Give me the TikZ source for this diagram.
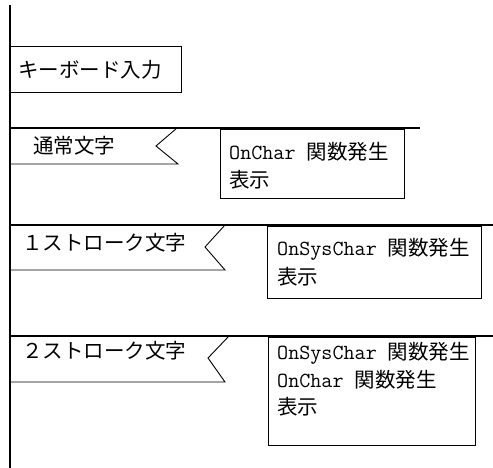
\documentclass[tikz,border=0pt]{standalone}
\usepackage{fontspec}
\newfontfamily\jpfont{Noto Sans CJK JP}
\newcommand{\mn}[1]{{\ttfamily\fontsize{21.5}{24}\selectfont #1}}
\tikzset{
  rule/.style={line width=1.8pt},
  thin frame/.style={line width=0.9pt},
  jtxt/.style={font=\jpfont\fontsize{20.5}{24}\selectfont, inner sep=0pt, anchor=west},
  frame/.style={draw, line width=0.9pt, inner sep=0pt, anchor=north west},
}
\begin{document}
\begin{tikzpicture}[x=1pt,y=-1pt]
\useasboundingbox (0,0) rectangle (493,468);
\fill[white] (0,0) rectangle (493,468);

% main vertical line
\coordinate (vtop) at (10,5);
\coordinate (vbot) at (10,468);
\draw[rule] (vtop) -- (vbot);

% keyboard input box
\node[frame, minimum width=171pt, minimum height=46pt] (kb) at (10,46) {};
\node[jtxt] (kbt) at (18,70) {キーボード入力};

% section 1
\coordinate (l1a) at (10,128);
\coordinate (l1b) at (420,128);
\draw[rule] (l1a) -- (l1b);
\coordinate (f1t) at (177,128);
\coordinate (f1m) at (156,146);
\coordinate (f1b) at (178,164);
\coordinate (f1l) at (10,164);
\draw[thin frame] (f1t) -- (f1m) -- (f1b) -- (f1l);
\node[jtxt] (f1txt) at (33,146) {通常文字};
\node[frame, minimum width=184pt, minimum height=69pt] (b1) at (220,129) {};
\node[jtxt] (b1a) at (229,152) {\mn{OnChar }関数発生};
\node[jtxt] (b1b) at (229,180) {表示};

% section 2
\coordinate (l2a) at (10,225);
\coordinate (l2b) at (493,225);
\draw[rule] (l2a) -- (l2b);
\coordinate (f2t) at (225,225);
\coordinate (f2m) at (205,247);
\coordinate (f2b) at (225,270);
\coordinate (f2l) at (10,270);
\draw[thin frame] (f2t) -- (f2m) -- (f2b) -- (f2l);
\node[jtxt] (f2txt) at (22,243) {１ストローク文字};
\node[frame, minimum width=214pt, minimum height=72pt] (b2) at (267,226) {};
\node[jtxt] (b2a) at (277,249) {\mn{OnSysChar }関数発生};
\node[jtxt] (b2b) at (277,277) {表示};

% section 3
\coordinate (l3a) at (10,336);
\coordinate (l3b) at (493,336);
\draw[rule] (l3a) -- (l3b);
\coordinate (f3t) at (229,336);
\coordinate (f3m) at (208,358);
\coordinate (f3b) at (225,382);
\coordinate (f3l) at (10,382);
\draw[thin frame] (f3t) -- (f3m) -- (f3b) -- (f3l);
\node[jtxt] (f3txt) at (22,351) {２ストローク文字};
\node[frame, minimum width=207pt, minimum height=108pt] (b3) at (268,337) {};
\node[jtxt] (b3a) at (277,353) {\mn{OnSysChar }関数発生};
\node[jtxt] (b3b) at (277,380) {\mn{OnChar }関数発生};
\node[jtxt] (b3c) at (277,407) {表示};
\end{tikzpicture}
\end{document}
